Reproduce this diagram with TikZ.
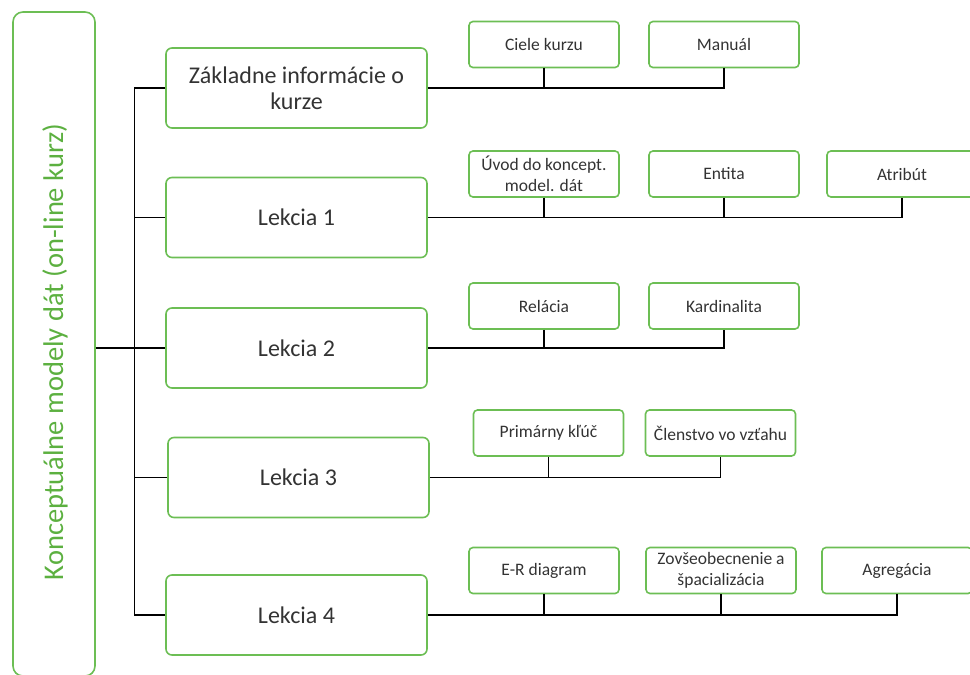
\documentclass[tikz,border=0pt]{standalone}
\usepackage{fontspec}
\setmainfont{Carlito}
\usetikzlibrary{positioning}
\definecolor{boxgreen}{RGB}{108,190,84}
\definecolor{rootgreen}{RGB}{92,176,64}
\definecolor{txtgray}{RGB}{51,51,51}
\tikzset{% styles of the course map
  koren/.style={draw=boxgreen, line width=1.6pt, rounded corners=10pt,
    minimum width=82pt, minimum height=664pt},
  korentext/.style={rotate=90, inner sep=0pt,
    text=rootgreen, font=\fontsize{28.5}{32}\selectfont},
  lekcia/.style={draw=boxgreen, line width=1.6pt, rounded corners=6pt,
    minimum width=261pt, minimum height=80pt, align=center,
    text=txtgray, font=\fontsize{24}{26}\selectfont},
  tema/.style={draw=boxgreen, line width=1.6pt, rounded corners=4pt,
    minimum width=150pt, minimum height=46pt, align=center, inner sep=1pt,
    text=txtgray, font=\fontsize{17.5}{21}\selectfont},
  spoj/.style={line width=1.3pt}
}

\begin{document}
\begin{tikzpicture}[x=1pt,y=-1pt]
\useasboundingbox (0,0) rectangle (970,675);
\node[koren] (kurz) at (54,344) {};
\node[korentext] (kurzNazov) at (55,352) {Konceptuálne modely dát (on-line kurz)};

\node[lekcia] (zaklad) at (296.5,88) {Základne informácie o\\kurze};
\node[lekcia] (lek1) at (296.5,217.5) {Lekcia 1};
\node[lekcia] (lek2) at (296.5,348) {Lekcia 2};
\node[lekcia] (lek3) at (298.5,477.5) {Lekcia 3};
\node[lekcia] (lek4) at (296.5,615) {Lekcia 4};

\node[tema] (ciele) at (544,44.5) {Ciele kurzu};
\node[tema] (manual) at (724,44.5) {Manuál};

\node[tema] (uvod) at (544,174) {Úvod do koncept.\\model. dát};
\node[tema] (entita) at (724,174) {Entita};
\node[tema] (atribut) at (902,174) {Atribút};

\node[tema] (relacia) at (544,306) {Relácia};
\node[tema] (kardin) at (724,306) {Kardinalita};

\node[tema] (kluc) at (548.5,433) {Primárny kľúč};
\node[tema] (clenstvo) at (720.5,433) {Členstvo vo vzťahu};

\node[tema] (erdiag) at (544,570.5) {E-R diagram};
\node[tema] (zovseob) at (721,570.5) {Zovšeobecnenie a\\špacializácia};
\node[tema] (agreg) at (897,570.5) {Agregácia};

% trunk
\draw[spoj] (kurz.east |- lek2.west) -- (lek2.west);
\draw[spoj] (zaklad.west) -- ++(-31,0) |- (lek4.west);
\draw[spoj] (lek1.west) -- ++(-31,0);
\draw[spoj] (lek3.west) -- ++(-33,0);

% branches
\draw[spoj] (zaklad.east) -| (manual.south);
\draw[spoj] (ciele.south) -- (ciele.south |- zaklad.east);

\draw[spoj] (lek1.east) -| (atribut.south);
\draw[spoj] (uvod.south) -- (uvod.south |- lek1.east);
\draw[spoj] (entita.south) -- (entita.south |- lek1.east);

\draw[spoj] (lek2.east) -| (kardin.south);
\draw[spoj] (relacia.south) -- (relacia.south |- lek2.east);

\draw[spoj] (lek3.east) -| (clenstvo.south);
\draw[spoj] (kluc.south) -- (kluc.south |- lek3.east);

\draw[spoj] (lek4.east) -| (agreg.south);
\draw[spoj] (erdiag.south) -- (erdiag.south |- lek4.east);
\draw[spoj] (zovseob.south) -- (zovseob.south |- lek4.east);
\end{tikzpicture}
\end{document}
